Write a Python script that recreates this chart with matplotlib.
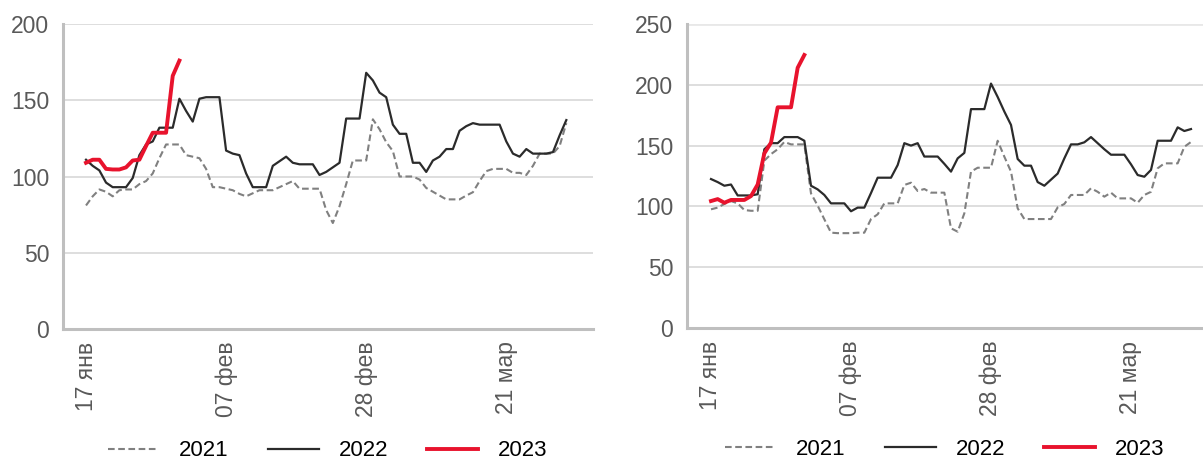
import numpy as np
import pandas as pd
import matplotlib
matplotlib.use('Agg')
import matplotlib.pyplot as plt

# daily dates from 17 Jan
dates = pd.date_range('2023-01-17', periods=73, freq='D')
tick_dates = pd.to_datetime(['2023-01-17', '2023-02-07', '2023-02-28', '2023-03-21'])
tick_labels = ['17 янв', '07 фев', '28 фев', '21 мар']
years = ['2021', '2022', '2023']

# left panel
left_2021 = [81, 87, 91.5, 90, 87, 91, 91.5, 91.5, 95, 97, 102, 112, 121, 121, 121, 114, 113, 112, 105, 93,
             93, 92, 91, 88.6, 87, 89, 91, 91, 91, 93, 95, 97, 92, 92, 92, 92, 78, 69.5, 80.5, 95,
             110.5, 110.5, 110.5, 137.5, 131, 122.5, 116.7, 100, 100, 100, 98, 92.5, 90, 87.5, 85, 85, 85, 87.5, 89.7, 97,
             103.5, 105, 105, 105, 102.4, 102.4, 101, 107, 115, 115, 115, 120, 135]
left_2022 = [111, 107, 104, 96, 93, 93, 93, 99, 114, 121, 123, 132, 132, 132, 151, 143, 136, 151, 152, 152,
             152, 117, 115, 114, 102, 93, 93, 93, 107, 110, 113, 109, 108, 108, 108, 101, 103, 106, 109, 138,
             138, 138, 168, 163, 155, 152, 134, 128, 128, 109, 109, 103, 110.5, 113, 118, 118, 130, 133, 135, 134,
             134, 134, 134, 123, 115, 113, 118, 115, 115, 115, 116, 127, 137]
left_2023 = [109, 111, 111, 105, 104.6, 104.6, 106, 110.5, 111, 120, 128.7, 128.7, 128.7, 166, 176]

# right panel
right_2021 = [97.6, 99, 102, 104.4, 102.5, 97, 96.4, 96.4, 137.6, 143, 147, 153, 151, 151, 151, 110.7, 100.6, 89.4, 78.4, 78,
              78, 78, 78.4, 78.4, 89.6, 93.5, 102.5, 102.5, 102.5, 117.6, 119.5, 112.7, 114.3, 111.3, 111.3, 111.3, 82, 79.2, 94.3, 128.6,
              131.8, 131.8, 131.8, 154, 140.9, 128.6, 98.4, 89.6, 89.6, 89.6, 89.6, 89.6, 99.2, 102, 109.4, 109.4, 109.4, 114.9, 112, 108,
              111.3, 106.6, 106.6, 106.6, 103, 109.4, 112, 131.3, 135.4, 135.4, 135.4, 149, 153]
right_2022 = [122.5, 120, 117, 118, 109, 109, 109, 110, 147, 152, 152, 157, 157, 157, 154, 117, 114, 109.4, 102.5, 102.5,
              102.5, 96, 99, 99, 111, 123.6, 123.6, 123.6, 134, 152, 150, 152, 141, 141, 141, 135, 128.6, 139.5, 144, 180,
              180, 180, 201, 190, 178, 167, 139, 133.5, 133.5, 120, 117, 122, 127, 139.5, 151, 151, 152.7, 157, 152, 147,
              142.5, 142.5, 142.5, 134.6, 125.8, 124.4, 130, 154, 154, 154, 165, 162, 163.6]
right_2023 = [104.4, 106, 103, 105.3, 105.3, 105.3, 108.5, 118, 143.6, 152.4, 181.5, 181.5, 181.5, 214, 224.5]

c21, c22, c23 = '#808080', '#2b2b2b', '#e8132d'
grey_txt = '#595959'

fig = plt.figure(figsize=(12.03, 4.61), dpi=100)
ax1 = fig.add_axes([63 / 1203, 132 / 461, 530 / 1203, 305 / 461])
ax2 = fig.add_axes([687 / 1203, 133 / 461, 516 / 1203, 304 / 461])

panels = [
    (ax1, left_2021, left_2022, left_2023, 200, 50, (-3.45, 76.0)),
    (ax2, right_2021, right_2022, right_2023, 250, 50, (-3.6, 73.8)),
]

for ax, s21, s22, s23, ymax, step, xl in panels:
    ax.plot(dates, s21, color=c21, lw=1.5, dashes=(3.2, 1.7), label=years[0])
    ax.plot(dates, s22, color=c22, lw=1.6, label=years[1])
    ax.plot(dates[:len(s23)], s23, color=c23, lw=2.8, label=years[2])

    ax.set_ylim(0, ymax)
    ax.set_yticks(np.arange(0, ymax + 1, step))
    ax.set_xlim(dates[0] + pd.Timedelta(days=xl[0]), dates[0] + pd.Timedelta(days=xl[1]))
    ax.set_xticks(tick_dates)
    ax.set_xticklabels(tick_labels, rotation=90)

    ax.grid(axis='y', color='#d4d4d4', lw=1.1)
    ax.set_axisbelow(True)
    for s in ['top', 'right']:
        ax.spines[s].set_visible(False)
    for s in ['left', 'bottom']:
        ax.spines[s].set_color('#bfbfbf')
        ax.spines[s].set_linewidth(2.2)
    ax.tick_params(axis='both', length=0, labelsize=16.5, colors=grey_txt)
    ax.tick_params(axis='y', pad=10)
    ax.tick_params(axis='x', pad=9)
    for lab in ax.get_xticklabels() + ax.get_yticklabels():
        lab.set_fontfamily('Liberation Sans')

    leg = ax.legend(loc='center', bbox_to_anchor=(0.5, -0.40), ncol=3, frameon=False,
                    prop={'family': 'Liberation Sans', 'size': 16},
                    handlelength=2.3, handletextpad=0.9, columnspacing=1.75)

# top gridline of the right panel is lighter in the original
ax2.get_ygridlines()[-1].set_color('#e8e8e8')
ax2.get_ygridlines()[-1].set_linewidth(2)

fig.savefig('out.png', dpi=100)
